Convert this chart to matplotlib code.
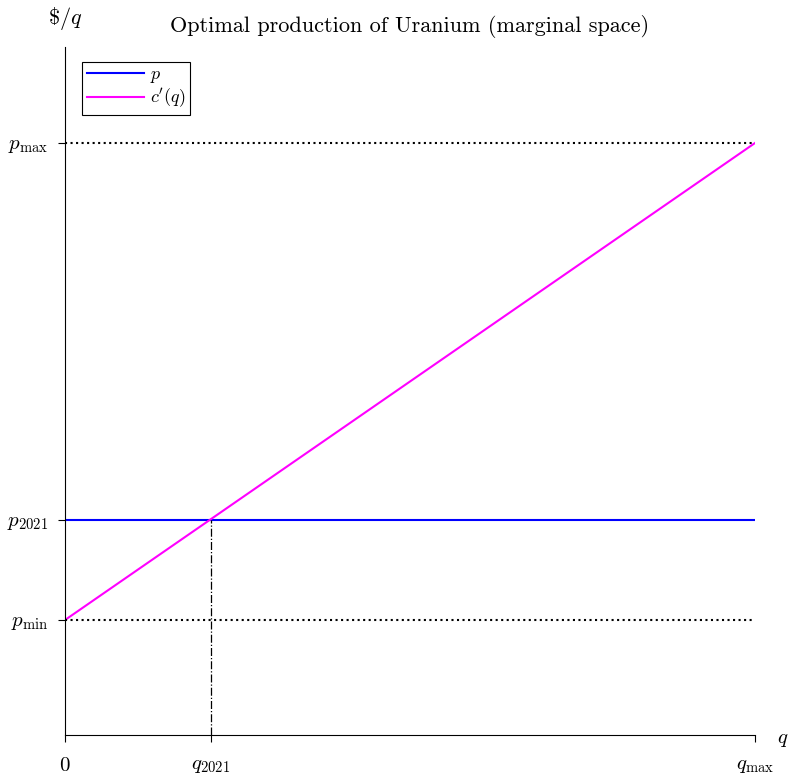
import matplotlib
matplotlib.use("Agg")
import matplotlib.pyplot as plt
import numpy as np

plt.rcParams['mathtext.fontset'] = 'cm'
plt.rcParams['font.family'] = 'serif'
plt.rcParams['font.serif'] = ['cmr10', 'DejaVu Serif']
plt.rcParams['axes.unicode_minus'] = False

# data (arbitrary units)
q_max = 1.0
q_2021 = 0.2116
p_min = 1.15
p_2021 = 2.15
p_max = 5.92
y_top = 6.88

q = np.array([0.0, q_max])
p_line = np.array([p_2021, p_2021])
mc_line = np.array([p_min, p_max])

xtick_vals = [0, q_2021, q_max]
xtick_labels = [r'$0$', r'$q_{2021}$', r'$q_{\max}$']
ytick_vals = [p_min, p_2021, p_max]
ytick_labels = [r'$p_{\min}$', r'$p_{2021}$', r'$p_{\max}$']

fig = plt.figure(figsize=(7.91, 7.80), dpi=100)
ax = fig.add_axes([65/791, 1-735/780, 690/791, 688/780])

ax.plot(q, p_line, color='blue', lw=1.5, label=r'$p$')
ax.plot(q, mc_line, color='magenta', lw=1.5, label=r"$c'(q)$")
ax.plot(q, [p_min, p_min], color='black', ls=':', lw=1.5)
ax.plot(q, [p_max, p_max], color='black', ls=':', lw=1.5)
ax.plot([q_2021, q_2021], [0, p_2021], color='black', ls='-.', lw=0.9)

ax.set_xlim(0, q_max)
ax.set_ylim(0, y_top)
ax.set_xticks(xtick_vals)
ax.set_xticklabels(xtick_labels, fontsize=15)
ax.set_yticks(ytick_vals)
ax.set_yticklabels(ytick_labels, fontsize=15)
ax.tick_params(axis='y', length=5, width=0.8, pad=7)
ax.tick_params(axis='x', length=5, width=0.8, pad=11)
for s in ['top', 'right']:
    ax.spines[s].set_visible(False)
for s in ['left', 'bottom']:
    ax.spines[s].set_linewidth(0.8)

fig.text(410/791, 1-27/780, 'Optimal production of Uranium (marginal space)',
         fontsize=16, ha='center', va='center')
fig.text(65/791, 1-18/780, r'$\$/q$', fontsize=16, ha='center', va='center')
fig.text(783/791, 1-740/780, r'$q$', fontsize=15, ha='center', va='center')

leg = ax.legend(loc='upper left', fontsize=13, frameon=True, fancybox=False,
                edgecolor='black', framealpha=1, borderpad=0.25, handlelength=3.2,
                handletextpad=0.3, labelspacing=0.1, borderaxespad=0,
                bbox_to_anchor=(17/690, 1-15/688))
leg.get_frame().set_linewidth(0.8)

fig.savefig('out.png', dpi=100)
